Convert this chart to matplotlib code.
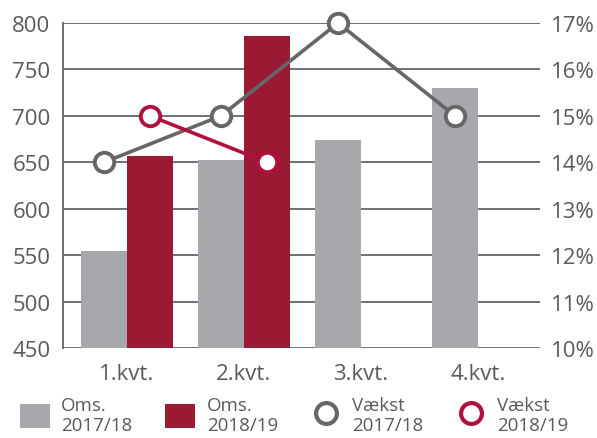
import numpy as np
import matplotlib.pyplot as plt
from matplotlib.patches import Patch
from matplotlib.lines import Line2D

plt.rcParams.update({
    'font.family': ['Open Sans', 'DejaVu Sans'],
    'font.size': 16,
    'text.color': '#5a5a5a',
    'xtick.color': '#5a5a5a',
    'ytick.color': '#5a5a5a',
})

# data
quarters = ['1.kvt.', '2.kvt.', '3.kvt.', '4.kvt.']
oms_1718 = [554, 652, 674, 730]
oms_1819 = [657, 786]
vaekst_1718 = [14, 15, 17, 15]
vaekst_1819 = [15, 14]

c_gray = '#a7a8ab'
c_red = '#9b1a33'
c_line_gray = '#666666'
c_line_red = '#b0103c'
c_grid = '#707070'

x = np.arange(len(quarters))
w = 0.393

fig = plt.figure(figsize=(5.97, 4.39), dpi=100)
ax = fig.add_axes([63 / 597, 1 - 349 / 439, 477 / 597, 325 / 439])
ax2 = ax.twinx()

ax.bar(x - w / 2, oms_1718, width=w, color=c_gray, zorder=2)
ax.bar(x[:len(oms_1819)] + w / 2, oms_1819, width=w, color=c_red, zorder=2)

ax.set_ylim(450, 800)
ax.set_xlim(-0.547, 3.53)
ax.set_yticks(np.arange(450, 801, 50))
ax.yaxis.grid(True, color=c_grid, linewidth=1.4, zorder=0)
ax.set_axisbelow(True)
ax.set_xticks(x)
ax.set_xticklabels(quarters)
ax.tick_params(axis='y', length=0, pad=9, labelsize=16)
ax.tick_params(axis='x', length=0, pad=11, labelsize=16)
for s in ['top', 'right', 'bottom']:
    ax.spines[s].set_visible(False)
ax.spines['left'].set_color(c_grid)
ax.spines['left'].set_linewidth(1.4)

mk = dict(marker='o', markersize=14, markerfacecolor='white',
          markeredgewidth=2.8, linewidth=2.6, clip_on=False, zorder=5)
ax2.plot(x - w / 2, vaekst_1718, color=c_line_gray, **mk)
ax2.plot(x[:len(vaekst_1819)] + w / 2, vaekst_1819, color=c_line_red, **mk)
ax2.set_ylim(10, 17)
ax2.set_yticks(np.arange(10, 18, 1))
ax2.set_yticklabels([f'{v}%' for v in range(10, 18)])
ax2.tick_params(axis='y', length=0, pad=8, labelsize=16)
for s in ax2.spines.values():
    s.set_visible(False)

handles = [
    Patch(facecolor=c_gray, edgecolor='none'),
    Patch(facecolor=c_red, edgecolor='none'),
    Line2D([], [], linestyle='none', marker='o', markersize=15, markerfacecolor='white',
           markeredgecolor=c_line_gray, markeredgewidth=3),
    Line2D([], [], linestyle='none', marker='o', markersize=15, markerfacecolor='white',
           markeredgecolor=c_line_red, markeredgewidth=3),
]
labels = ['Oms.\n2017/18', 'Oms.\n2018/19', 'Vækst\n2017/18', 'Vækst\n2018/19']
fig.legend(handles, labels, loc='center', bbox_to_anchor=(0.493, 1 - 416 / 439), ncol=4,
           frameon=False, fontsize=13.5, handlelength=1.6, handleheight=1.6,
           handletextpad=0.6, columnspacing=1.75, labelspacing=0.2)

fig.savefig('out.png', dpi=100)
